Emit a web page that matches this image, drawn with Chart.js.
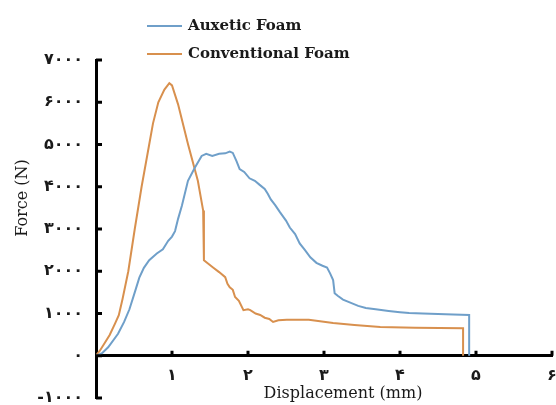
<!DOCTYPE html>
<html lang="en">
<head>
    <meta charset="UTF-8">
    <title>Force - Displacement</title>
    <script src="https://cdn.jsdelivr.net/npm/chart.js"></script>
    <style>
        body { margin: 0; padding: 0; background: #fff; }
        #wrap { width: 556px; height: 405px; }
    </style>
</head>
<body>
    <div id="wrap"><canvas id="myChart"></canvas></div>

    <script>
        // series (displacement mm, force N)
        const auxeticX = [0, 0.08, 0.16, 0.29, 0.37, 0.44, 0.51, 0.57, 0.63, 0.70, 0.80, 0.88, 0.95, 1.00, 1.04, 1.08, 1.13, 1.21, 1.30, 1.39, 1.45, 1.53, 1.62, 1.70, 1.76, 1.80, 1.85, 1.89, 1.95, 2.02, 2.09, 2.15, 2.22, 2.26, 2.30, 2.36, 2.42, 2.50, 2.55, 2.62, 2.68, 2.75, 2.82, 2.90, 2.98, 3.04, 3.08, 3.12, 3.14, 3.18, 3.25, 3.33, 3.45, 3.55, 3.68, 3.85, 4.00, 4.12, 4.30, 4.50, 4.70, 4.91, 4.91];
        const auxeticY = [0, 60, 200, 520, 800, 1100, 1500, 1850, 2080, 2260, 2420, 2520, 2720, 2820, 2950, 3240, 3550, 4140, 4450, 4730, 4780, 4730, 4780, 4790, 4830, 4800, 4600, 4420, 4350, 4200, 4140, 4050, 3950, 3835, 3700, 3560, 3400, 3200, 3035, 2880, 2660, 2500, 2330, 2200, 2130, 2090, 1950, 1790, 1480, 1420, 1330, 1270, 1180, 1130, 1100, 1060, 1030, 1010, 1000, 990, 975, 965, 0];

        const conventionalX = [0, 0.05, 0.10, 0.18, 0.25, 0.30, 0.35, 0.425, 0.51, 0.60, 0.70, 0.75, 0.82, 0.90, 0.965, 1.00, 1.08, 1.21, 1.34, 1.41, 1.42, 1.54, 1.62, 1.70, 1.73, 1.76, 1.80, 1.83, 1.88, 1.94, 2.00, 2.03, 2.10, 2.16, 2.22, 2.28, 2.33, 2.40, 2.51, 2.80, 3.12, 3.40, 3.74, 4.20, 4.83, 4.83];
        const conventionalY = [0, 120, 260, 490, 760, 960, 1350, 2000, 3000, 4000, 5000, 5500, 6000, 6300, 6450, 6400, 5950, 5010, 4140, 3435, 2260, 2090, 1980, 1860, 1700, 1620, 1560, 1390, 1300, 1080, 1100, 1080, 1000, 965, 900, 870, 800, 840, 850, 850, 775, 730, 680, 660, 650, 0];

        const seriesNames = ['Auxetic Foam', 'Conventional Foam'];

        const xTickValues = [0, 1, 2, 3, 4, 5, 6];
        const xTickLabels = ['', '۱', '۲', '۳', '۴', '۵', '۶'];
        const yTickValues = [-1000, 0, 1000, 2000, 3000, 4000, 5000, 6000, 7000];
        const yTickLabels = ['-۱۰۰۰', '۰', '۱۰۰۰', '۲۰۰۰', '۳۰۰۰', '۴۰۰۰', '۵۰۰۰', '۶۰۰۰', '۷۰۰۰'];

        const xTitle = 'Displacement (mm)';
        const yTitle = 'Force (N)';

        function toPoints(xs, ys) {
            return xs.map((x, i) => ({ x: x, y: ys[i] }));
        }

        // legend, axis titles and the inward tick marks
        const extras = {
            id: 'extras',
            afterDraw(chart) {
                const ctx = chart.ctx;
                const xs = chart.scales.x;
                const ys = chart.scales.y;
                ctx.save();

                // tick marks pointing inside
                ctx.strokeStyle = '#000';
                ctx.lineWidth = 3;
                const x0 = xs.getPixelForValue(0);
                const y0 = ys.getPixelForValue(0);
                yTickValues.forEach(v => {
                    const py = ys.getPixelForValue(v);
                    ctx.beginPath();
                    ctx.moveTo(x0, py);
                    ctx.lineTo(x0 + 6, py);
                    ctx.stroke();
                });
                xTickValues.slice(1).forEach(v => {
                    const px = xs.getPixelForValue(v);
                    ctx.beginPath();
                    ctx.moveTo(px, y0);
                    ctx.lineTo(px, y0 - 5);
                    ctx.stroke();
                });

                // legend
                ctx.font = 'bold 15px "DejaVu Serif"';
                ctx.textBaseline = 'middle';
                ctx.textAlign = 'left';
                chart.data.datasets.forEach((ds, i) => {
                    const ly = 26 + i * 28;
                    ctx.strokeStyle = ds.borderColor;
                    ctx.lineWidth = 2;
                    ctx.beginPath();
                    ctx.moveTo(147, ly);
                    ctx.lineTo(182, ly);
                    ctx.stroke();
                    ctx.fillStyle = '#1a1a1a';
                    ctx.fillText(ds.label, 188, ly);
                });

                // axis titles
                ctx.font = '16px "DejaVu Serif"';
                ctx.fillStyle = '#1a1a1a';
                ctx.textAlign = 'center';
                ctx.fillText(xTitle, 343, 394);
                ctx.translate(23, 198);
                ctx.rotate(-Math.PI / 2);
                ctx.fillText(yTitle, 0, 0);

                ctx.restore();
            }
        };

        const ctx = document.getElementById('myChart').getContext('2d');
        new Chart(ctx, {
            type: 'scatter',
            data: {
                datasets: [{
                    label: seriesNames[0],
                    data: toPoints(auxeticX, auxeticY),
                    showLine: true,
                    borderColor: '#6f9fc9',
                    borderWidth: 2,
                    pointRadius: 0,
                    tension: 0
                }, {
                    label: seriesNames[1],
                    data: toPoints(conventionalX, conventionalY),
                    showLine: true,
                    borderColor: '#d8904e',
                    borderWidth: 2,
                    pointRadius: 0,
                    tension: 0
                }]
            },
            options: {
                responsive: true,
                maintainAspectRatio: false,
                animation: false,
                layout: {
                    padding: { top: 60, right: 4, bottom: 7, left: 0 }
                },
                plugins: {
                    legend: { display: false },
                    tooltip: { enabled: false }
                },
                scales: {
                    x: {
                        type: 'linear',
                        position: { y: 0 },
                        min: 0,
                        max: 6,
                        afterFit: (scale) => {
                            scale.paddingLeft = 0;
                            scale.paddingRight = 0;
                        },
                        afterBuildTicks: (scale) => {
                            scale.ticks = xTickValues.map(v => ({ value: v }));
                        },
                        grid: { display: false, drawTicks: false },
                        border: { display: true, color: '#000', width: 3 },
                        ticks: {
                            padding: 10,
                            color: '#1a1a1a',
                            font: { family: 'DejaVu Sans', size: 16, weight: 'bold' },
                            callback: (v) => xTickLabels[xTickValues.indexOf(v)]
                        }
                    },
                    y: {
                        type: 'linear',
                        position: 'left',
                        min: -1000,
                        max: 7000,
                        afterFit: (scale) => {
                            scale.width = 96;
                            scale.paddingTop = 0;
                            scale.paddingBottom = 0;
                        },
                        afterBuildTicks: (scale) => {
                            scale.ticks = yTickValues.map(v => ({ value: v }));
                        },
                        grid: { display: false, drawTicks: false },
                        border: { display: true, color: '#000', width: 3 },
                        ticks: {
                            padding: 13,
                            color: '#1a1a1a',
                            font: { family: 'DejaVu Sans', size: 16, weight: 'bold' },
                            callback: (v) => yTickLabels[yTickValues.indexOf(v)]
                        }
                    }
                }
            },
            plugins: [extras]
        });
    </script>
</body>
</html>
